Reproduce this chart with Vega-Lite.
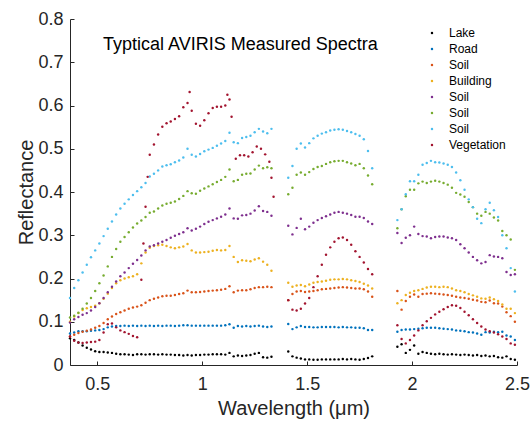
{
"$schema":"https://vega.github.io/schema/vega-lite/v6.json",
"width":447,"height":346,
"autosize":{"type":"none"},
"padding":{"left":70,"top":19,"right":13,"bottom":56},
"background":"white",
"config":{"view":{"stroke":null},"font":"Liberation Sans",
"axis":{"domainColor":"#262626","tickColor":"#262626","labelColor":"#262626","titleColor":"#262626","labelFontSize":18,"titleFontSize":20,"titleFontWeight":"normal","tickSize":-4,"grid":false,"labelFont":"Liberation Sans","titleFont":"Liberation Sans","labelFlush":false,"labelOverlap":false}},
"encoding":{
"x":{"field":"w","type":"quantitative","scale":{"domain":[0.37,2.5],"nice":false,"zero":false},"axis":{"values":[0.5,1,1.5,2,2.5],"format":"~g","title":"Wavelength (μm)","titleY":49,"titleBaseline":"alphabetic","labelPadding":14}},
"y":{"field":"r","type":"quantitative","scale":{"domain":[0,0.8],"nice":false,"zero":false},"axis":{"values":[0,0.1,0.2,0.3,0.4,0.5,0.6,0.7,0.8],"format":"~g","title":"Reflectance","titleX":-38,"titleBaseline":"alphabetic","labelPadding":11}}
},
"layer":[
{"data":{"values":[
{"s":"Lake","w":0.37,"r":0.062},{"s":"Lake","w":0.39,"r":0.058},{"s":"Lake","w":0.41,"r":0.052},{"s":"Lake","w":0.43,"r":0.045},{"s":"Lake","w":0.45,"r":0.04},{"s":"Lake","w":0.47,"r":0.036},{"s":"Lake","w":0.49,"r":0.032},{"s":"Lake","w":0.51,"r":0.03},{"s":"Lake","w":0.53,"r":0.03},{"s":"Lake","w":0.55,"r":0.029},{"s":"Lake","w":0.57,"r":0.028},{"s":"Lake","w":0.59,"r":0.026},{"s":"Lake","w":0.61,"r":0.025},{"s":"Lake","w":0.63,"r":0.025},{"s":"Lake","w":0.65,"r":0.024},{"s":"Lake","w":0.67,"r":0.023},{"s":"Lake","w":0.69,"r":0.025},{"s":"Lake","w":0.71,"r":0.025},{"s":"Lake","w":0.73,"r":0.024},{"s":"Lake","w":0.75,"r":0.025},{"s":"Lake","w":0.77,"r":0.025},{"s":"Lake","w":0.79,"r":0.024},{"s":"Lake","w":0.81,"r":0.025},{"s":"Lake","w":0.83,"r":0.024},{"s":"Lake","w":0.85,"r":0.024},{"s":"Lake","w":0.87,"r":0.023},{"s":"Lake","w":0.89,"r":0.023},{"s":"Lake","w":0.91,"r":0.022},{"s":"Lake","w":0.93,"r":0.023},{"s":"Lake","w":0.95,"r":0.022},{"s":"Lake","w":0.97,"r":0.023},{"s":"Lake","w":0.99,"r":0.023},{"s":"Lake","w":1.01,"r":0.024},{"s":"Lake","w":1.03,"r":0.024},{"s":"Lake","w":1.05,"r":0.025},{"s":"Lake","w":1.07,"r":0.025},{"s":"Lake","w":1.09,"r":0.025},{"s":"Lake","w":1.11,"r":0.024},{"s":"Lake","w":1.13,"r":0.028},{"s":"Lake","w":1.15,"r":0.02},{"s":"Lake","w":1.17,"r":0.022},{"s":"Lake","w":1.19,"r":0.021},{"s":"Lake","w":1.21,"r":0.022},{"s":"Lake","w":1.23,"r":0.023},{"s":"Lake","w":1.25,"r":0.026},{"s":"Lake","w":1.27,"r":0.028},{"s":"Lake","w":1.29,"r":0.018},{"s":"Lake","w":1.31,"r":0.017},{"s":"Lake","w":1.33,"r":0.019},
{"s":"Lake","w":1.41,"r":0.031},{"s":"Lake","w":1.43,"r":0.02},{"s":"Lake","w":1.45,"r":0.017},{"s":"Lake","w":1.47,"r":0.015},{"s":"Lake","w":1.49,"r":0.013},{"s":"Lake","w":1.51,"r":0.013},{"s":"Lake","w":1.53,"r":0.012},{"s":"Lake","w":1.55,"r":0.012},{"s":"Lake","w":1.57,"r":0.013},{"s":"Lake","w":1.59,"r":0.013},{"s":"Lake","w":1.61,"r":0.013},{"s":"Lake","w":1.63,"r":0.013},{"s":"Lake","w":1.65,"r":0.013},{"s":"Lake","w":1.67,"r":0.014},{"s":"Lake","w":1.69,"r":0.013},{"s":"Lake","w":1.71,"r":0.014},{"s":"Lake","w":1.73,"r":0.013},{"s":"Lake","w":1.75,"r":0.012},{"s":"Lake","w":1.77,"r":0.014},{"s":"Lake","w":1.79,"r":0.016},{"s":"Lake","w":1.81,"r":0.02},
{"s":"Lake","w":1.93,"r":0.042},{"s":"Lake","w":1.95,"r":0.048},{"s":"Lake","w":1.97,"r":0.028},{"s":"Lake","w":1.99,"r":0.035},{"s":"Lake","w":2.01,"r":0.045},{"s":"Lake","w":2.03,"r":0.026},{"s":"Lake","w":2.05,"r":0.03},{"s":"Lake","w":2.07,"r":0.028},{"s":"Lake","w":2.09,"r":0.026},{"s":"Lake","w":2.11,"r":0.025},{"s":"Lake","w":2.13,"r":0.026},{"s":"Lake","w":2.15,"r":0.025},{"s":"Lake","w":2.17,"r":0.024},{"s":"Lake","w":2.19,"r":0.025},{"s":"Lake","w":2.21,"r":0.024},{"s":"Lake","w":2.23,"r":0.023},{"s":"Lake","w":2.25,"r":0.024},{"s":"Lake","w":2.27,"r":0.023},{"s":"Lake","w":2.29,"r":0.022},{"s":"Lake","w":2.31,"r":0.023},{"s":"Lake","w":2.33,"r":0.021},{"s":"Lake","w":2.35,"r":0.022},{"s":"Lake","w":2.37,"r":0.02},{"s":"Lake","w":2.39,"r":0.021},{"s":"Lake","w":2.41,"r":0.018},{"s":"Lake","w":2.43,"r":0.017},{"s":"Lake","w":2.45,"r":0.02},{"s":"Lake","w":2.47,"r":0.014},{"s":"Lake","w":2.49,"r":0.012},
{"s":"Road","w":0.37,"r":0.073},{"s":"Road","w":0.39,"r":0.075},{"s":"Road","w":0.41,"r":0.078},{"s":"Road","w":0.43,"r":0.078},{"s":"Road","w":0.45,"r":0.078},{"s":"Road","w":0.47,"r":0.079},{"s":"Road","w":0.49,"r":0.08},{"s":"Road","w":0.51,"r":0.081},{"s":"Road","w":0.53,"r":0.083},{"s":"Road","w":0.55,"r":0.087},{"s":"Road","w":0.57,"r":0.089},{"s":"Road","w":0.59,"r":0.09},{"s":"Road","w":0.61,"r":0.09},{"s":"Road","w":0.63,"r":0.091},{"s":"Road","w":0.65,"r":0.09},{"s":"Road","w":0.67,"r":0.091},{"s":"Road","w":0.69,"r":0.09},{"s":"Road","w":0.71,"r":0.091},{"s":"Road","w":0.73,"r":0.09},{"s":"Road","w":0.75,"r":0.091},{"s":"Road","w":0.77,"r":0.09},{"s":"Road","w":0.79,"r":0.091},{"s":"Road","w":0.81,"r":0.09},{"s":"Road","w":0.83,"r":0.091},{"s":"Road","w":0.85,"r":0.091},{"s":"Road","w":0.87,"r":0.09},{"s":"Road","w":0.89,"r":0.091},{"s":"Road","w":0.91,"r":0.092},{"s":"Road","w":0.93,"r":0.092},{"s":"Road","w":0.95,"r":0.091},{"s":"Road","w":0.97,"r":0.091},{"s":"Road","w":0.99,"r":0.091},{"s":"Road","w":1.01,"r":0.091},{"s":"Road","w":1.03,"r":0.091},{"s":"Road","w":1.05,"r":0.091},{"s":"Road","w":1.07,"r":0.091},{"s":"Road","w":1.09,"r":0.091},{"s":"Road","w":1.11,"r":0.092},{"s":"Road","w":1.13,"r":0.094},{"s":"Road","w":1.15,"r":0.086},{"s":"Road","w":1.17,"r":0.09},{"s":"Road","w":1.19,"r":0.089},{"s":"Road","w":1.21,"r":0.09},{"s":"Road","w":1.23,"r":0.089},{"s":"Road","w":1.25,"r":0.09},{"s":"Road","w":1.27,"r":0.091},{"s":"Road","w":1.29,"r":0.089},{"s":"Road","w":1.31,"r":0.088},{"s":"Road","w":1.33,"r":0.089},
{"s":"Road","w":1.41,"r":0.095},{"s":"Road","w":1.43,"r":0.083},{"s":"Road","w":1.45,"r":0.087},{"s":"Road","w":1.47,"r":0.09},{"s":"Road","w":1.49,"r":0.088},{"s":"Road","w":1.51,"r":0.088},{"s":"Road","w":1.53,"r":0.087},{"s":"Road","w":1.55,"r":0.087},{"s":"Road","w":1.57,"r":0.088},{"s":"Road","w":1.59,"r":0.088},{"s":"Road","w":1.61,"r":0.088},{"s":"Road","w":1.63,"r":0.088},{"s":"Road","w":1.65,"r":0.087},{"s":"Road","w":1.67,"r":0.088},{"s":"Road","w":1.69,"r":0.087},{"s":"Road","w":1.71,"r":0.087},{"s":"Road","w":1.73,"r":0.086},{"s":"Road","w":1.75,"r":0.086},{"s":"Road","w":1.77,"r":0.085},{"s":"Road","w":1.79,"r":0.081},{"s":"Road","w":1.81,"r":0.081},
{"s":"Road","w":1.93,"r":0.077},{"s":"Road","w":1.95,"r":0.081},{"s":"Road","w":1.97,"r":0.082},{"s":"Road","w":1.99,"r":0.082},{"s":"Road","w":2.01,"r":0.083},{"s":"Road","w":2.03,"r":0.084},{"s":"Road","w":2.05,"r":0.085},{"s":"Road","w":2.07,"r":0.086},{"s":"Road","w":2.09,"r":0.086},{"s":"Road","w":2.11,"r":0.086},{"s":"Road","w":2.13,"r":0.085},{"s":"Road","w":2.15,"r":0.084},{"s":"Road","w":2.17,"r":0.083},{"s":"Road","w":2.19,"r":0.082},{"s":"Road","w":2.21,"r":0.08},{"s":"Road","w":2.23,"r":0.079},{"s":"Road","w":2.25,"r":0.078},{"s":"Road","w":2.27,"r":0.076},{"s":"Road","w":2.29,"r":0.075},{"s":"Road","w":2.31,"r":0.073},{"s":"Road","w":2.33,"r":0.07},{"s":"Road","w":2.35,"r":0.076},{"s":"Road","w":2.37,"r":0.075},{"s":"Road","w":2.39,"r":0.077},{"s":"Road","w":2.41,"r":0.076},{"s":"Road","w":2.43,"r":0.077},{"s":"Road","w":2.45,"r":0.068},{"s":"Road","w":2.47,"r":0.066},{"s":"Road","w":2.49,"r":0.058},
{"s":"Soil1","w":0.37,"r":0.066},{"s":"Soil1","w":0.39,"r":0.07},{"s":"Soil1","w":0.41,"r":0.074},{"s":"Soil1","w":0.43,"r":0.077},{"s":"Soil1","w":0.45,"r":0.079},{"s":"Soil1","w":0.47,"r":0.082},{"s":"Soil1","w":0.49,"r":0.086},{"s":"Soil1","w":0.51,"r":0.09},{"s":"Soil1","w":0.53,"r":0.097},{"s":"Soil1","w":0.55,"r":0.106},{"s":"Soil1","w":0.57,"r":0.112},{"s":"Soil1","w":0.59,"r":0.118},{"s":"Soil1","w":0.61,"r":0.122},{"s":"Soil1","w":0.63,"r":0.126},{"s":"Soil1","w":0.65,"r":0.13},{"s":"Soil1","w":0.67,"r":0.133},{"s":"Soil1","w":0.69,"r":0.135},{"s":"Soil1","w":0.71,"r":0.138},{"s":"Soil1","w":0.73,"r":0.144},{"s":"Soil1","w":0.75,"r":0.15},{"s":"Soil1","w":0.77,"r":0.153},{"s":"Soil1","w":0.79,"r":0.156},{"s":"Soil1","w":0.81,"r":0.159},{"s":"Soil1","w":0.83,"r":0.16},{"s":"Soil1","w":0.85,"r":0.16},{"s":"Soil1","w":0.87,"r":0.162},{"s":"Soil1","w":0.89,"r":0.164},{"s":"Soil1","w":0.91,"r":0.166},{"s":"Soil1","w":0.93,"r":0.172},{"s":"Soil1","w":0.95,"r":0.168},{"s":"Soil1","w":0.97,"r":0.168},{"s":"Soil1","w":0.99,"r":0.169},{"s":"Soil1","w":1.01,"r":0.17},{"s":"Soil1","w":1.03,"r":0.171},{"s":"Soil1","w":1.05,"r":0.172},{"s":"Soil1","w":1.07,"r":0.173},{"s":"Soil1","w":1.09,"r":0.174},{"s":"Soil1","w":1.11,"r":0.176},{"s":"Soil1","w":1.13,"r":0.182},{"s":"Soil1","w":1.15,"r":0.168},{"s":"Soil1","w":1.17,"r":0.172},{"s":"Soil1","w":1.19,"r":0.173},{"s":"Soil1","w":1.21,"r":0.173},{"s":"Soil1","w":1.23,"r":0.175},{"s":"Soil1","w":1.25,"r":0.178},{"s":"Soil1","w":1.27,"r":0.18},{"s":"Soil1","w":1.29,"r":0.18},{"s":"Soil1","w":1.31,"r":0.181},{"s":"Soil1","w":1.33,"r":0.18},
{"s":"Soil1","w":1.41,"r":0.15},{"s":"Soil1","w":1.43,"r":0.164},{"s":"Soil1","w":1.45,"r":0.17},{"s":"Soil1","w":1.47,"r":0.171},{"s":"Soil1","w":1.49,"r":0.169},{"s":"Soil1","w":1.51,"r":0.17},{"s":"Soil1","w":1.53,"r":0.171},{"s":"Soil1","w":1.55,"r":0.173},{"s":"Soil1","w":1.57,"r":0.175},{"s":"Soil1","w":1.59,"r":0.176},{"s":"Soil1","w":1.61,"r":0.177},{"s":"Soil1","w":1.63,"r":0.178},{"s":"Soil1","w":1.65,"r":0.179},{"s":"Soil1","w":1.67,"r":0.18},{"s":"Soil1","w":1.69,"r":0.179},{"s":"Soil1","w":1.71,"r":0.178},{"s":"Soil1","w":1.73,"r":0.177},{"s":"Soil1","w":1.75,"r":0.177},{"s":"Soil1","w":1.77,"r":0.175},{"s":"Soil1","w":1.79,"r":0.17},{"s":"Soil1","w":1.81,"r":0.158},
{"s":"Soil1","w":1.93,"r":0.171},{"s":"Soil1","w":1.95,"r":0.128},{"s":"Soil1","w":1.97,"r":0.148},{"s":"Soil1","w":1.99,"r":0.158},{"s":"Soil1","w":2.01,"r":0.163},{"s":"Soil1","w":2.03,"r":0.158},{"s":"Soil1","w":2.05,"r":0.164},{"s":"Soil1","w":2.07,"r":0.165},{"s":"Soil1","w":2.09,"r":0.166},{"s":"Soil1","w":2.11,"r":0.165},{"s":"Soil1","w":2.13,"r":0.164},{"s":"Soil1","w":2.15,"r":0.163},{"s":"Soil1","w":2.17,"r":0.162},{"s":"Soil1","w":2.19,"r":0.16},{"s":"Soil1","w":2.21,"r":0.158},{"s":"Soil1","w":2.23,"r":0.156},{"s":"Soil1","w":2.25,"r":0.155},{"s":"Soil1","w":2.27,"r":0.153},{"s":"Soil1","w":2.29,"r":0.151},{"s":"Soil1","w":2.31,"r":0.149},{"s":"Soil1","w":2.33,"r":0.146},{"s":"Soil1","w":2.35,"r":0.145},{"s":"Soil1","w":2.37,"r":0.149},{"s":"Soil1","w":2.39,"r":0.143},{"s":"Soil1","w":2.41,"r":0.142},{"s":"Soil1","w":2.43,"r":0.135},{"s":"Soil1","w":2.45,"r":0.122},{"s":"Soil1","w":2.47,"r":0.113},{"s":"Soil1","w":2.49,"r":0.1},
{"s":"Building","w":0.37,"r":0.1},{"s":"Building","w":0.39,"r":0.112},{"s":"Building","w":0.41,"r":0.12},{"s":"Building","w":0.43,"r":0.127},{"s":"Building","w":0.45,"r":0.131},{"s":"Building","w":0.47,"r":0.134},{"s":"Building","w":0.49,"r":0.137},{"s":"Building","w":0.51,"r":0.143},{"s":"Building","w":0.53,"r":0.153},{"s":"Building","w":0.55,"r":0.165},{"s":"Building","w":0.57,"r":0.178},{"s":"Building","w":0.59,"r":0.189},{"s":"Building","w":0.61,"r":0.196},{"s":"Building","w":0.63,"r":0.2},{"s":"Building","w":0.65,"r":0.203},{"s":"Building","w":0.67,"r":0.205},{"s":"Building","w":0.69,"r":0.21},{"s":"Building","w":0.71,"r":0.235},{"s":"Building","w":0.73,"r":0.26},{"s":"Building","w":0.75,"r":0.271},{"s":"Building","w":0.77,"r":0.275},{"s":"Building","w":0.79,"r":0.277},{"s":"Building","w":0.81,"r":0.278},{"s":"Building","w":0.83,"r":0.275},{"s":"Building","w":0.85,"r":0.272},{"s":"Building","w":0.87,"r":0.27},{"s":"Building","w":0.89,"r":0.272},{"s":"Building","w":0.91,"r":0.274},{"s":"Building","w":0.93,"r":0.28},{"s":"Building","w":0.95,"r":0.265},{"s":"Building","w":0.97,"r":0.26},{"s":"Building","w":0.99,"r":0.26},{"s":"Building","w":1.01,"r":0.261},{"s":"Building","w":1.03,"r":0.262},{"s":"Building","w":1.05,"r":0.264},{"s":"Building","w":1.07,"r":0.266},{"s":"Building","w":1.09,"r":0.265},{"s":"Building","w":1.11,"r":0.266},{"s":"Building","w":1.13,"r":0.275},{"s":"Building","w":1.15,"r":0.25},{"s":"Building","w":1.17,"r":0.238},{"s":"Building","w":1.19,"r":0.242},{"s":"Building","w":1.21,"r":0.241},{"s":"Building","w":1.23,"r":0.24},{"s":"Building","w":1.25,"r":0.244},{"s":"Building","w":1.27,"r":0.247},{"s":"Building","w":1.29,"r":0.239},{"s":"Building","w":1.31,"r":0.232},{"s":"Building","w":1.33,"r":0.218},
{"s":"Building","w":1.41,"r":0.19},{"s":"Building","w":1.43,"r":0.181},{"s":"Building","w":1.45,"r":0.184},{"s":"Building","w":1.47,"r":0.185},{"s":"Building","w":1.49,"r":0.182},{"s":"Building","w":1.51,"r":0.186},{"s":"Building","w":1.53,"r":0.19},{"s":"Building","w":1.55,"r":0.192},{"s":"Building","w":1.57,"r":0.193},{"s":"Building","w":1.59,"r":0.195},{"s":"Building","w":1.61,"r":0.197},{"s":"Building","w":1.63,"r":0.198},{"s":"Building","w":1.65,"r":0.198},{"s":"Building","w":1.67,"r":0.199},{"s":"Building","w":1.69,"r":0.198},{"s":"Building","w":1.71,"r":0.196},{"s":"Building","w":1.73,"r":0.194},{"s":"Building","w":1.75,"r":0.192},{"s":"Building","w":1.77,"r":0.188},{"s":"Building","w":1.79,"r":0.184},{"s":"Building","w":1.81,"r":0.177},
{"s":"Building","w":1.93,"r":0.143},{"s":"Building","w":1.95,"r":0.15},{"s":"Building","w":1.97,"r":0.162},{"s":"Building","w":1.99,"r":0.167},{"s":"Building","w":2.01,"r":0.171},{"s":"Building","w":2.03,"r":0.173},{"s":"Building","w":2.05,"r":0.176},{"s":"Building","w":2.07,"r":0.179},{"s":"Building","w":2.09,"r":0.181},{"s":"Building","w":2.11,"r":0.181},{"s":"Building","w":2.13,"r":0.18},{"s":"Building","w":2.15,"r":0.181},{"s":"Building","w":2.17,"r":0.18},{"s":"Building","w":2.19,"r":0.177},{"s":"Building","w":2.21,"r":0.173},{"s":"Building","w":2.23,"r":0.171},{"s":"Building","w":2.25,"r":0.168},{"s":"Building","w":2.27,"r":0.164},{"s":"Building","w":2.29,"r":0.161},{"s":"Building","w":2.31,"r":0.158},{"s":"Building","w":2.33,"r":0.154},{"s":"Building","w":2.35,"r":0.153},{"s":"Building","w":2.37,"r":0.156},{"s":"Building","w":2.39,"r":0.152},{"s":"Building","w":2.41,"r":0.148},{"s":"Building","w":2.43,"r":0.14},{"s":"Building","w":2.45,"r":0.13},{"s":"Building","w":2.47,"r":0.13},{"s":"Building","w":2.49,"r":0.12},
{"s":"Soil2","w":0.37,"r":0.098},{"s":"Soil2","w":0.39,"r":0.106},{"s":"Soil2","w":0.41,"r":0.111},{"s":"Soil2","w":0.43,"r":0.116},{"s":"Soil2","w":0.45,"r":0.12},{"s":"Soil2","w":0.47,"r":0.126},{"s":"Soil2","w":0.49,"r":0.134},{"s":"Soil2","w":0.51,"r":0.143},{"s":"Soil2","w":0.53,"r":0.155},{"s":"Soil2","w":0.55,"r":0.168},{"s":"Soil2","w":0.57,"r":0.181},{"s":"Soil2","w":0.59,"r":0.193},{"s":"Soil2","w":0.61,"r":0.205},{"s":"Soil2","w":0.63,"r":0.214},{"s":"Soil2","w":0.65,"r":0.224},{"s":"Soil2","w":0.67,"r":0.234},{"s":"Soil2","w":0.69,"r":0.243},{"s":"Soil2","w":0.71,"r":0.253},{"s":"Soil2","w":0.73,"r":0.265},{"s":"Soil2","w":0.75,"r":0.274},{"s":"Soil2","w":0.77,"r":0.277},{"s":"Soil2","w":0.79,"r":0.281},{"s":"Soil2","w":0.81,"r":0.285},{"s":"Soil2","w":0.83,"r":0.289},{"s":"Soil2","w":0.85,"r":0.294},{"s":"Soil2","w":0.87,"r":0.299},{"s":"Soil2","w":0.89,"r":0.303},{"s":"Soil2","w":0.91,"r":0.307},{"s":"Soil2","w":0.93,"r":0.316},{"s":"Soil2","w":0.95,"r":0.311},{"s":"Soil2","w":0.97,"r":0.315},{"s":"Soil2","w":0.99,"r":0.32},{"s":"Soil2","w":1.01,"r":0.326},{"s":"Soil2","w":1.03,"r":0.331},{"s":"Soil2","w":1.05,"r":0.335},{"s":"Soil2","w":1.07,"r":0.339},{"s":"Soil2","w":1.09,"r":0.343},{"s":"Soil2","w":1.11,"r":0.348},{"s":"Soil2","w":1.13,"r":0.362},{"s":"Soil2","w":1.15,"r":0.339},{"s":"Soil2","w":1.17,"r":0.338},{"s":"Soil2","w":1.19,"r":0.346},{"s":"Soil2","w":1.21,"r":0.347},{"s":"Soil2","w":1.23,"r":0.35},{"s":"Soil2","w":1.25,"r":0.357},{"s":"Soil2","w":1.27,"r":0.367},{"s":"Soil2","w":1.29,"r":0.356},{"s":"Soil2","w":1.31,"r":0.354},{"s":"Soil2","w":1.33,"r":0.345},
{"s":"Soil2","w":1.41,"r":0.322},{"s":"Soil2","w":1.43,"r":0.302},{"s":"Soil2","w":1.45,"r":0.317},{"s":"Soil2","w":1.47,"r":0.338},{"s":"Soil2","w":1.49,"r":0.314},{"s":"Soil2","w":1.51,"r":0.32},{"s":"Soil2","w":1.53,"r":0.329},{"s":"Soil2","w":1.55,"r":0.335},{"s":"Soil2","w":1.57,"r":0.34},{"s":"Soil2","w":1.59,"r":0.344},{"s":"Soil2","w":1.61,"r":0.348},{"s":"Soil2","w":1.63,"r":0.352},{"s":"Soil2","w":1.65,"r":0.354},{"s":"Soil2","w":1.67,"r":0.352},{"s":"Soil2","w":1.69,"r":0.35},{"s":"Soil2","w":1.71,"r":0.347},{"s":"Soil2","w":1.73,"r":0.343},{"s":"Soil2","w":1.75,"r":0.343},{"s":"Soil2","w":1.77,"r":0.34},{"s":"Soil2","w":1.79,"r":0.332},{"s":"Soil2","w":1.81,"r":0.326},
{"s":"Soil2","w":1.93,"r":0.305},{"s":"Soil2","w":1.95,"r":0.282},{"s":"Soil2","w":1.97,"r":0.294},{"s":"Soil2","w":1.99,"r":0.3},{"s":"Soil2","w":2.01,"r":0.32},{"s":"Soil2","w":2.03,"r":0.303},{"s":"Soil2","w":2.05,"r":0.298},{"s":"Soil2","w":2.07,"r":0.297},{"s":"Soil2","w":2.09,"r":0.293},{"s":"Soil2","w":2.11,"r":0.296},{"s":"Soil2","w":2.13,"r":0.297},{"s":"Soil2","w":2.15,"r":0.297},{"s":"Soil2","w":2.17,"r":0.295},{"s":"Soil2","w":2.19,"r":0.293},{"s":"Soil2","w":2.21,"r":0.289},{"s":"Soil2","w":2.23,"r":0.279},{"s":"Soil2","w":2.25,"r":0.27},{"s":"Soil2","w":2.27,"r":0.26},{"s":"Soil2","w":2.29,"r":0.25},{"s":"Soil2","w":2.31,"r":0.242},{"s":"Soil2","w":2.33,"r":0.235},{"s":"Soil2","w":2.35,"r":0.238},{"s":"Soil2","w":2.37,"r":0.254},{"s":"Soil2","w":2.39,"r":0.251},{"s":"Soil2","w":2.41,"r":0.25},{"s":"Soil2","w":2.43,"r":0.247},{"s":"Soil2","w":2.45,"r":0.215},{"s":"Soil2","w":2.47,"r":0.208},{"s":"Soil2","w":2.49,"r":0.21},
{"s":"Soil3","w":0.37,"r":0.11},{"s":"Soil3","w":0.39,"r":0.114},{"s":"Soil3","w":0.41,"r":0.121},{"s":"Soil3","w":0.43,"r":0.13},{"s":"Soil3","w":0.45,"r":0.142},{"s":"Soil3","w":0.47,"r":0.155},{"s":"Soil3","w":0.49,"r":0.171},{"s":"Soil3","w":0.51,"r":0.189},{"s":"Soil3","w":0.53,"r":0.207},{"s":"Soil3","w":0.55,"r":0.228},{"s":"Soil3","w":0.57,"r":0.25},{"s":"Soil3","w":0.59,"r":0.268},{"s":"Soil3","w":0.61,"r":0.285},{"s":"Soil3","w":0.63,"r":0.296},{"s":"Soil3","w":0.65,"r":0.307},{"s":"Soil3","w":0.67,"r":0.318},{"s":"Soil3","w":0.69,"r":0.327},{"s":"Soil3","w":0.71,"r":0.334},{"s":"Soil3","w":0.73,"r":0.342},{"s":"Soil3","w":0.75,"r":0.352},{"s":"Soil3","w":0.77,"r":0.355},{"s":"Soil3","w":0.79,"r":0.362},{"s":"Soil3","w":0.81,"r":0.369},{"s":"Soil3","w":0.83,"r":0.373},{"s":"Soil3","w":0.85,"r":0.375},{"s":"Soil3","w":0.87,"r":0.378},{"s":"Soil3","w":0.89,"r":0.384},{"s":"Soil3","w":0.91,"r":0.391},{"s":"Soil3","w":0.93,"r":0.402},{"s":"Soil3","w":0.95,"r":0.397},{"s":"Soil3","w":0.97,"r":0.396},{"s":"Soil3","w":0.99,"r":0.403},{"s":"Soil3","w":1.01,"r":0.408},{"s":"Soil3","w":1.03,"r":0.413},{"s":"Soil3","w":1.05,"r":0.418},{"s":"Soil3","w":1.07,"r":0.423},{"s":"Soil3","w":1.09,"r":0.428},{"s":"Soil3","w":1.11,"r":0.435},{"s":"Soil3","w":1.13,"r":0.452},{"s":"Soil3","w":1.15,"r":0.425},{"s":"Soil3","w":1.17,"r":0.428},{"s":"Soil3","w":1.19,"r":0.44},{"s":"Soil3","w":1.21,"r":0.442},{"s":"Soil3","w":1.23,"r":0.443},{"s":"Soil3","w":1.25,"r":0.452},{"s":"Soil3","w":1.27,"r":0.461},{"s":"Soil3","w":1.29,"r":0.455},{"s":"Soil3","w":1.31,"r":0.457},{"s":"Soil3","w":1.33,"r":0.455},
{"s":"Soil3","w":1.41,"r":0.395},{"s":"Soil3","w":1.43,"r":0.41},{"s":"Soil3","w":1.45,"r":0.44},{"s":"Soil3","w":1.47,"r":0.445},{"s":"Soil3","w":1.49,"r":0.44},{"s":"Soil3","w":1.51,"r":0.446},{"s":"Soil3","w":1.53,"r":0.453},{"s":"Soil3","w":1.55,"r":0.458},{"s":"Soil3","w":1.57,"r":0.46},{"s":"Soil3","w":1.59,"r":0.465},{"s":"Soil3","w":1.61,"r":0.469},{"s":"Soil3","w":1.63,"r":0.471},{"s":"Soil3","w":1.65,"r":0.472},{"s":"Soil3","w":1.67,"r":0.472},{"s":"Soil3","w":1.69,"r":0.469},{"s":"Soil3","w":1.71,"r":0.466},{"s":"Soil3","w":1.73,"r":0.462},{"s":"Soil3","w":1.75,"r":0.465},{"s":"Soil3","w":1.77,"r":0.455},{"s":"Soil3","w":1.79,"r":0.438},{"s":"Soil3","w":1.81,"r":0.418},
{"s":"Soil3","w":1.93,"r":0.316},{"s":"Soil3","w":1.95,"r":0.36},{"s":"Soil3","w":1.97,"r":0.39},{"s":"Soil3","w":1.99,"r":0.405},{"s":"Soil3","w":2.01,"r":0.405},{"s":"Soil3","w":2.03,"r":0.42},{"s":"Soil3","w":2.05,"r":0.424},{"s":"Soil3","w":2.07,"r":0.421},{"s":"Soil3","w":2.09,"r":0.424},{"s":"Soil3","w":2.11,"r":0.426},{"s":"Soil3","w":2.13,"r":0.424},{"s":"Soil3","w":2.15,"r":0.421},{"s":"Soil3","w":2.17,"r":0.417},{"s":"Soil3","w":2.19,"r":0.41},{"s":"Soil3","w":2.21,"r":0.398},{"s":"Soil3","w":2.23,"r":0.394},{"s":"Soil3","w":2.25,"r":0.389},{"s":"Soil3","w":2.27,"r":0.377},{"s":"Soil3","w":2.29,"r":0.365},{"s":"Soil3","w":2.31,"r":0.35},{"s":"Soil3","w":2.33,"r":0.345},{"s":"Soil3","w":2.35,"r":0.354},{"s":"Soil3","w":2.37,"r":0.35},{"s":"Soil3","w":2.39,"r":0.341},{"s":"Soil3","w":2.41,"r":0.334},{"s":"Soil3","w":2.43,"r":0.31},{"s":"Soil3","w":2.45,"r":0.3},{"s":"Soil3","w":2.47,"r":0.29},{"s":"Soil3","w":2.49,"r":0.22},
{"s":"Soil4","w":0.37,"r":0.155},{"s":"Soil4","w":0.39,"r":0.178},{"s":"Soil4","w":0.41,"r":0.196},{"s":"Soil4","w":0.43,"r":0.214},{"s":"Soil4","w":0.45,"r":0.232},{"s":"Soil4","w":0.47,"r":0.249},{"s":"Soil4","w":0.49,"r":0.265},{"s":"Soil4","w":0.51,"r":0.281},{"s":"Soil4","w":0.53,"r":0.298},{"s":"Soil4","w":0.55,"r":0.315},{"s":"Soil4","w":0.57,"r":0.332},{"s":"Soil4","w":0.59,"r":0.348},{"s":"Soil4","w":0.61,"r":0.362},{"s":"Soil4","w":0.63,"r":0.373},{"s":"Soil4","w":0.65,"r":0.383},{"s":"Soil4","w":0.67,"r":0.393},{"s":"Soil4","w":0.69,"r":0.402},{"s":"Soil4","w":0.71,"r":0.411},{"s":"Soil4","w":0.73,"r":0.421},{"s":"Soil4","w":0.75,"r":0.436},{"s":"Soil4","w":0.77,"r":0.442},{"s":"Soil4","w":0.79,"r":0.45},{"s":"Soil4","w":0.81,"r":0.459},{"s":"Soil4","w":0.83,"r":0.462},{"s":"Soil4","w":0.85,"r":0.464},{"s":"Soil4","w":0.87,"r":0.469},{"s":"Soil4","w":0.89,"r":0.473},{"s":"Soil4","w":0.91,"r":0.48},{"s":"Soil4","w":0.93,"r":0.5},{"s":"Soil4","w":0.95,"r":0.486},{"s":"Soil4","w":0.97,"r":0.482},{"s":"Soil4","w":0.99,"r":0.488},{"s":"Soil4","w":1.01,"r":0.494},{"s":"Soil4","w":1.03,"r":0.498},{"s":"Soil4","w":1.05,"r":0.502},{"s":"Soil4","w":1.07,"r":0.507},{"s":"Soil4","w":1.09,"r":0.512},{"s":"Soil4","w":1.11,"r":0.518},{"s":"Soil4","w":1.13,"r":0.537},{"s":"Soil4","w":1.15,"r":0.515},{"s":"Soil4","w":1.17,"r":0.513},{"s":"Soil4","w":1.19,"r":0.525},{"s":"Soil4","w":1.21,"r":0.527},{"s":"Soil4","w":1.23,"r":0.53},{"s":"Soil4","w":1.25,"r":0.538},{"s":"Soil4","w":1.27,"r":0.546},{"s":"Soil4","w":1.29,"r":0.54},{"s":"Soil4","w":1.31,"r":0.536},{"s":"Soil4","w":1.33,"r":0.546},
{"s":"Soil4","w":1.41,"r":0.433},{"s":"Soil4","w":1.43,"r":0.46},{"s":"Soil4","w":1.45,"r":0.5},{"s":"Soil4","w":1.47,"r":0.512},{"s":"Soil4","w":1.49,"r":0.503},{"s":"Soil4","w":1.51,"r":0.513},{"s":"Soil4","w":1.53,"r":0.524},{"s":"Soil4","w":1.55,"r":0.53},{"s":"Soil4","w":1.57,"r":0.535},{"s":"Soil4","w":1.59,"r":0.538},{"s":"Soil4","w":1.61,"r":0.542},{"s":"Soil4","w":1.63,"r":0.544},{"s":"Soil4","w":1.65,"r":0.545},{"s":"Soil4","w":1.67,"r":0.544},{"s":"Soil4","w":1.69,"r":0.541},{"s":"Soil4","w":1.71,"r":0.538},{"s":"Soil4","w":1.73,"r":0.534},{"s":"Soil4","w":1.75,"r":0.53},{"s":"Soil4","w":1.77,"r":0.522},{"s":"Soil4","w":1.79,"r":0.495},{"s":"Soil4","w":1.81,"r":0.455},
{"s":"Soil4","w":1.93,"r":0.335},{"s":"Soil4","w":1.95,"r":0.36},{"s":"Soil4","w":1.97,"r":0.395},{"s":"Soil4","w":1.99,"r":0.425},{"s":"Soil4","w":2.01,"r":0.425},{"s":"Soil4","w":2.03,"r":0.44},{"s":"Soil4","w":2.05,"r":0.463},{"s":"Soil4","w":2.07,"r":0.467},{"s":"Soil4","w":2.09,"r":0.472},{"s":"Soil4","w":2.11,"r":0.469},{"s":"Soil4","w":2.13,"r":0.468},{"s":"Soil4","w":2.15,"r":0.466},{"s":"Soil4","w":2.17,"r":0.463},{"s":"Soil4","w":2.19,"r":0.458},{"s":"Soil4","w":2.21,"r":0.445},{"s":"Soil4","w":2.23,"r":0.427},{"s":"Soil4","w":2.25,"r":0.405},{"s":"Soil4","w":2.27,"r":0.383},{"s":"Soil4","w":2.29,"r":0.365},{"s":"Soil4","w":2.31,"r":0.338},{"s":"Soil4","w":2.33,"r":0.328},{"s":"Soil4","w":2.35,"r":0.36},{"s":"Soil4","w":2.37,"r":0.375},{"s":"Soil4","w":2.39,"r":0.358},{"s":"Soil4","w":2.41,"r":0.342},{"s":"Soil4","w":2.43,"r":0.3},{"s":"Soil4","w":2.45,"r":0.27},{"s":"Soil4","w":2.47,"r":0.224},{"s":"Soil4","w":2.49,"r":0.17},
{"s":"Vegetation","w":0.37,"r":0.066},{"s":"Vegetation","w":0.39,"r":0.056},{"s":"Vegetation","w":0.41,"r":0.052},{"s":"Vegetation","w":0.43,"r":0.051},{"s":"Vegetation","w":0.45,"r":0.052},{"s":"Vegetation","w":0.47,"r":0.053},{"s":"Vegetation","w":0.49,"r":0.054},{"s":"Vegetation","w":0.51,"r":0.058},{"s":"Vegetation","w":0.53,"r":0.075},{"s":"Vegetation","w":0.55,"r":0.094},{"s":"Vegetation","w":0.57,"r":0.096},{"s":"Vegetation","w":0.59,"r":0.087},{"s":"Vegetation","w":0.61,"r":0.08},{"s":"Vegetation","w":0.63,"r":0.076},{"s":"Vegetation","w":0.65,"r":0.072},{"s":"Vegetation","w":0.67,"r":0.067},{"s":"Vegetation","w":0.69,"r":0.064},{"s":"Vegetation","w":0.71,"r":0.197},{"s":"Vegetation","w":0.72,"r":0.281},{"s":"Vegetation","w":0.73,"r":0.366},{"s":"Vegetation","w":0.74,"r":0.435},{"s":"Vegetation","w":0.75,"r":0.486},{"s":"Vegetation","w":0.77,"r":0.51},{"s":"Vegetation","w":0.79,"r":0.533},{"s":"Vegetation","w":0.81,"r":0.551},{"s":"Vegetation","w":0.83,"r":0.559},{"s":"Vegetation","w":0.85,"r":0.563},{"s":"Vegetation","w":0.87,"r":0.569},{"s":"Vegetation","w":0.89,"r":0.575},{"s":"Vegetation","w":0.91,"r":0.596},{"s":"Vegetation","w":0.93,"r":0.606},{"s":"Vegetation","w":0.94,"r":0.631},{"s":"Vegetation","w":0.95,"r":0.588},{"s":"Vegetation","w":0.97,"r":0.558},{"s":"Vegetation","w":0.99,"r":0.553},{"s":"Vegetation","w":1.01,"r":0.566},{"s":"Vegetation","w":1.03,"r":0.582},{"s":"Vegetation","w":1.05,"r":0.594},{"s":"Vegetation","w":1.07,"r":0.597},{"s":"Vegetation","w":1.09,"r":0.597},{"s":"Vegetation","w":1.11,"r":0.6},{"s":"Vegetation","w":1.12,"r":0.625},{"s":"Vegetation","w":1.13,"r":0.614},{"s":"Vegetation","w":1.14,"r":0.574},{"s":"Vegetation","w":1.16,"r":0.477},{"s":"Vegetation","w":1.18,"r":0.485},{"s":"Vegetation","w":1.2,"r":0.485},{"s":"Vegetation","w":1.22,"r":0.482},{"s":"Vegetation","w":1.24,"r":0.492},{"s":"Vegetation","w":1.26,"r":0.505},{"s":"Vegetation","w":1.28,"r":0.5},{"s":"Vegetation","w":1.3,"r":0.487},{"s":"Vegetation","w":1.32,"r":0.47},{"s":"Vegetation","w":1.33,"r":0.433},{"s":"Vegetation","w":1.34,"r":0.389},
{"s":"Vegetation","w":1.41,"r":0.15},{"s":"Vegetation","w":1.43,"r":0.128},{"s":"Vegetation","w":1.45,"r":0.126},{"s":"Vegetation","w":1.47,"r":0.13},{"s":"Vegetation","w":1.49,"r":0.142},{"s":"Vegetation","w":1.51,"r":0.155},{"s":"Vegetation","w":1.53,"r":0.18},{"s":"Vegetation","w":1.55,"r":0.205},{"s":"Vegetation","w":1.57,"r":0.232},{"s":"Vegetation","w":1.59,"r":0.255},{"s":"Vegetation","w":1.61,"r":0.272},{"s":"Vegetation","w":1.63,"r":0.285},{"s":"Vegetation","w":1.65,"r":0.293},{"s":"Vegetation","w":1.67,"r":0.295},{"s":"Vegetation","w":1.69,"r":0.289},{"s":"Vegetation","w":1.71,"r":0.278},{"s":"Vegetation","w":1.73,"r":0.263},{"s":"Vegetation","w":1.75,"r":0.25},{"s":"Vegetation","w":1.77,"r":0.237},{"s":"Vegetation","w":1.79,"r":0.222},{"s":"Vegetation","w":1.81,"r":0.21},
{"s":"Vegetation","w":1.93,"r":0.092},{"s":"Vegetation","w":1.95,"r":0.06},{"s":"Vegetation","w":1.97,"r":0.05},{"s":"Vegetation","w":1.99,"r":0.058},{"s":"Vegetation","w":2.01,"r":0.068},{"s":"Vegetation","w":2.03,"r":0.08},{"s":"Vegetation","w":2.05,"r":0.092},{"s":"Vegetation","w":2.07,"r":0.101},{"s":"Vegetation","w":2.09,"r":0.109},{"s":"Vegetation","w":2.11,"r":0.117},{"s":"Vegetation","w":2.13,"r":0.123},{"s":"Vegetation","w":2.15,"r":0.129},{"s":"Vegetation","w":2.17,"r":0.134},{"s":"Vegetation","w":2.19,"r":0.138},{"s":"Vegetation","w":2.21,"r":0.137},{"s":"Vegetation","w":2.23,"r":0.132},{"s":"Vegetation","w":2.25,"r":0.123},{"s":"Vegetation","w":2.27,"r":0.115},{"s":"Vegetation","w":2.29,"r":0.106},{"s":"Vegetation","w":2.31,"r":0.097},{"s":"Vegetation","w":2.33,"r":0.089},{"s":"Vegetation","w":2.35,"r":0.082},{"s":"Vegetation","w":2.37,"r":0.078},{"s":"Vegetation","w":2.39,"r":0.075},{"s":"Vegetation","w":2.41,"r":0.071},{"s":"Vegetation","w":2.43,"r":0.066},{"s":"Vegetation","w":2.45,"r":0.06},{"s":"Vegetation","w":2.47,"r":0.05},{"s":"Vegetation","w":2.49,"r":0.047}
]},
"mark":{"type":"point","filled":true,"size":6,"opacity":1,"shape":"circle"},
"encoding":{"color":{"field":"s","type":"nominal","scale":{"domain":["Lake","Road","Soil1","Building","Soil2","Soil3","Soil4","Vegetation"],"range":["#000000","#0072BD","#D95319","#EDB120","#7E2F8E","#77AC30","#4DBEEE","#A2142F"]},
"legend":{"title":null,"orient":"none","legendX":356,"legendY":8,"padding":0,"symbolType":"circle","symbolSize":6,"labelFontSize":12,"labelFont":"Liberation Sans","labelColor":"#000000","rowPadding":4,"labelOffset":11,"labelExpr":"indexof(datum.label,'Soil')==0 ? 'Soil' : datum.label"}}}
},
{"data":{"values":[{"w":0.527,"r":0.728,"t":"Typtical AVIRIS Measured Spectra"}]},
"mark":{"type":"text","align":"left","baseline":"alphabetic","fontSize":18,"font":"Liberation Sans","color":"#000000"},
"encoding":{"text":{"field":"t"}}}
]
}
